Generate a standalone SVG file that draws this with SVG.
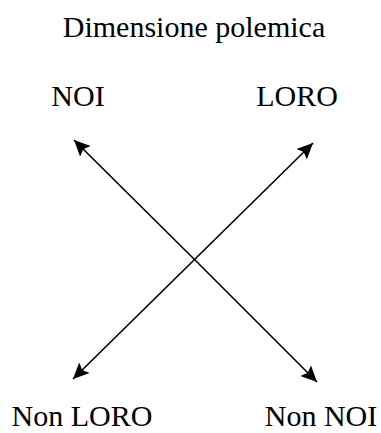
<svg xmlns="http://www.w3.org/2000/svg" width="381" height="433" viewBox="0 0 381 433">
<style>
text{font-family:"Liberation Serif","Times New Roman",Times,serif;font-size:30px;fill:#000}
.c{stroke:#000;stroke-width:1.6;fill:none}
</style>
<defs>
<marker id="ah" markerUnits="userSpaceOnUse" markerWidth="18" markerHeight="16" refX="16" refY="7.5" orient="auto">
<path d="M0,0 L16,7.5 L0,15 L3,7.5 Z" fill="#000"/>
</marker>
</defs>
<rect width="381" height="433" fill="#fff"/>
<g id="title"><text x="194" y="37" text-anchor="middle" font-family="Liberation Serif, serif">Dimensione polemica</text></g>
<g id="noi"><text x="78" y="106" text-anchor="middle" font-family="Liberation Serif, serif">NOI</text></g>
<g id="loro"><text x="297" y="106" text-anchor="middle" font-family="Liberation Serif, serif">LORO</text></g>
<g id="nonloro"><text x="82" y="426" text-anchor="middle" font-family="Liberation Serif, serif">Non LORO</text></g>
<g id="nonnoi"><text x="321" y="426" text-anchor="middle" font-family="Liberation Serif, serif">Non NOI</text></g>
<g id="connectors">
<line class="c" x1="196" y1="261" x2="74" y2="140" marker-end="url(#ah)"/>
<line class="c" x1="196" y1="261" x2="317" y2="382" marker-end="url(#ah)"/>
<line class="c" x1="193" y1="261" x2="313" y2="143" marker-end="url(#ah)"/>
<line class="c" x1="193" y1="261" x2="73" y2="379" marker-end="url(#ah)"/>
</g>
</svg>
